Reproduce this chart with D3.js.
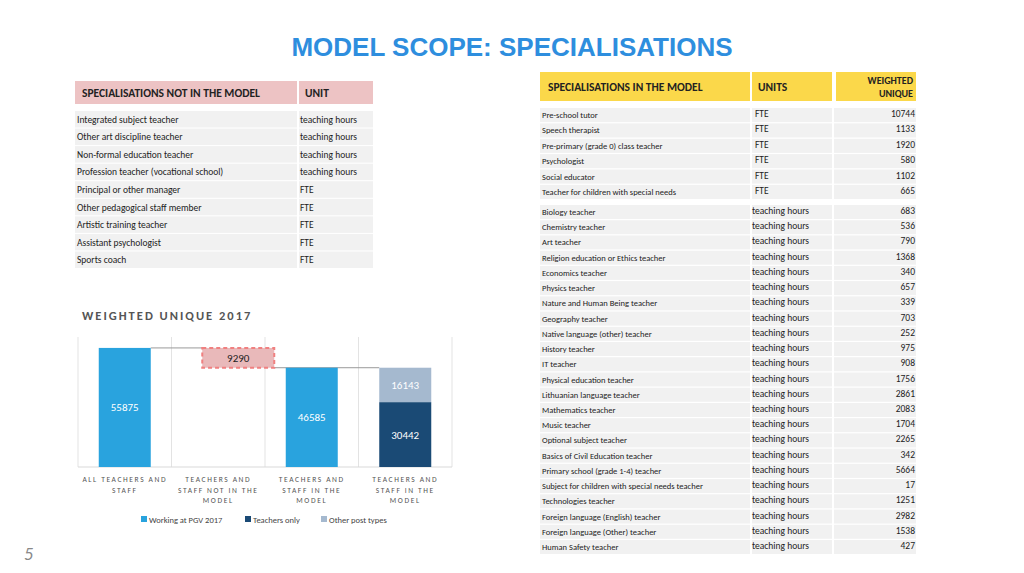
<!DOCTYPE html><html><head><meta charset="utf-8"><script src="https://cdn.jsdelivr.net/npm/d3@7"></script>
<style>body{margin:0;background:#fff}svg{display:block;font-family:Calibri,Carlito,"Open Sans",sans-serif}</style></head><body>
<svg id="s" width="1024" height="573"></svg>
<script>
const notInModel=["Integrated subject teacher","Other art discipline teacher","Non-formal education teacher","Profession teacher (vocational school)","Principal or other manager","Other pedagogical staff member","Artistic training teacher","Assistant psychologist","Sports coach"];
const notInUnits=["teaching hours","teaching hours","teaching hours","teaching hours","FTE","FTE","FTE","FTE","FTE"];
const fteNames=["Pre-school tutor","Speech therapist","Pre-primary (grade 0) class teacher","Psychologist","Social educator","Teacher for children with special needs"];
const fteValues=[10744,1133,1920,580,1102,665];
const thNames=["Biology teacher","Chemistry teacher","Art teacher","Religion education or Ethics teacher","Economics teacher","Physics teacher","Nature and Human Being teacher","Geography teacher","Native language (other) teacher","History teacher","IT teacher","Physical education teacher","Lithuanian language teacher","Mathematics teacher","Music teacher","Optional subject teacher","Basics of Civil Education teacher","Primary school (grade 1-4) teacher","Subject for children with special needs teacher","Technologies teacher","Foreign language (English) teacher","Foreign language (Other) teacher","Human Safety teacher"];
const thValues=[683,536,790,1368,340,657,339,703,252,975,908,1756,2861,2083,1704,2265,342,5664,17,1251,2982,1538,427];
const categories=[["ALL TEACHERS AND","STAFF"],["TEACHERS AND","STAFF NOT IN THE","MODEL"],["TEACHERS AND","STAFF IN THE","MODEL"],["TEACHERS AND","STAFF IN THE","MODEL"]];
const allStaff=55875, notIn=9290, inModel=46585, teachersOnly=30442, otherPosts=16143;
const legendLabels=["Working at PGV 2017","Teachers only","Other post types"];
const colors=["#29a3de","#1a4a75","#a5b9cf"];

const svg=d3.select("#s");
svg.append("text").attr("x",512).attr("y",56).attr("text-anchor","middle").attr("font-family","Liberation Sans,Arial").attr("font-weight","bold").attr("font-size",26).attr("fill","#2e8ede").text("MODEL SCOPE: SPECIALISATIONS");
svg.append("text").attr("x",24).attr("y",560).attr("font-style","italic").attr("font-size",18).attr("fill","#888").text("5");

// left table
const L=svg.append("g");
L.append("rect").attr("x",75).attr("y",81).attr("width",222).attr("height",23).attr("fill","#edc3c4");
L.append("rect").attr("x",299).attr("y",81).attr("width",74).attr("height",23).attr("fill","#edc3c4");
L.append("text").attr("x",82).attr("y",97).attr("font-size",11.5).attr("font-weight","bold").attr("fill","#222").text("SPECIALISATIONS NOT IN THE MODEL");
L.append("text").attr("x",305).attr("y",97).attr("font-size",11.5).attr("font-weight","bold").attr("fill","#222").text("UNIT");
const ly=d3.scaleBand().domain(d3.range(notInModel.length)).range([111,268]).paddingInner(0.06);
notInModel.forEach((n,i)=>{
  L.append("rect").attr("x",75).attr("y",ly(i)).attr("width",222).attr("height",ly.bandwidth()).attr("fill","#f1f1f1");
  L.append("rect").attr("x",299).attr("y",ly(i)).attr("width",74).attr("height",ly.bandwidth()).attr("fill","#f1f1f1");
  L.append("text").attr("x",77).attr("y",ly(i)+ly.bandwidth()/2+3.5).attr("font-size",9.5).attr("fill","#222").text(n);
  L.append("text").attr("x",300).attr("y",ly(i)+ly.bandwidth()/2+3.5).attr("font-size",9.5).attr("fill","#222").text(notInUnits[i]);
});

// right table
const R=svg.append("g");
[[540,210],[752,80],[836,80]].forEach(([x,w])=>R.append("rect").attr("x",x).attr("y",72).attr("width",w).attr("height",29).attr("fill","#fbd84a"));
R.append("text").attr("x",548).attr("y",91).attr("font-size",11.5).attr("font-weight","bold").attr("fill","#222").text("SPECIALISATIONS IN THE MODEL");
R.append("text").attr("x",758).attr("y",91).attr("font-size",11.5).attr("font-weight","bold").attr("fill","#222").text("UNITS");
R.append("text").attr("x",913).attr("y",84).attr("text-anchor","end").attr("font-size",10).attr("font-weight","bold").attr("fill","#222").text("WEIGHTED");
R.append("text").attr("x",913).attr("y",97).attr("text-anchor","end").attr("font-size",10).attr("font-weight","bold").attr("fill","#222").text("UNIQUE");
function group(names,vals,unit,y0,y1){
  const y=d3.scaleBand().domain(d3.range(names.length)).range([y0,y1]).paddingInner(0.08);
  names.forEach((n,i)=>{
    [[540,210],[752,80],[834,82]].forEach(([x,w])=>R.append("rect").attr("x",x).attr("y",y(i)).attr("width",w).attr("height",y.bandwidth()).attr("fill","#f1f1f1"));
    const ty=y(i)+y.bandwidth()/2+3;
    R.append("text").attr("x",542).attr("y",ty).attr("font-size",8.5).attr("fill","#222").text(n);
    R.append("text").attr("x",unit==="FTE"?755:752).attr("y",ty-1).attr("font-size",9.5).attr("fill","#222").text(unit);
    R.append("text").attr("x",915).attr("y",ty-1).attr("text-anchor","end").attr("font-size",9.5).attr("fill","#222").text(vals[i]);
  });
}
group(fteNames,fteValues,"FTE",108,199);
group(thNames,thValues,"teaching hours",205,554);

// chart
const C=svg.append("g");
C.append("text").attr("x",82).attr("y",320).attr("font-size",12.5).attr("font-weight","bold").attr("letter-spacing",2).attr("fill","#555").text("WEIGHTED UNIQUE 2017");
const x=d3.scaleBand().domain(d3.range(4)).range([78,452]);
const y=d3.scaleLinear().domain([0,61000]).range([467,337]);
for(let i=0;i<=4;i++){const xx=i<4?x(i):452;C.append("line").attr("x1",xx).attr("x2",xx).attr("y1",337).attr("y2",467).attr("stroke","#e3e3e3");}
C.append("line").attr("x1",78).attr("x2",452).attr("y1",467).attr("y2",467).attr("stroke","#d9d9d9");
const bw=52, bx=i=>x(i)+(x.bandwidth()-bw)/2;
C.append("line").attr("x1",bx(0)+bw).attr("x2",bx(1)+10).attr("y1",y(allStaff)).attr("y2",y(allStaff)).attr("stroke","#999");
C.append("line").attr("x1",bx(1)+bw+30).attr("x2",bx(3)).attr("y1",y(inModel)).attr("y2",y(inModel)).attr("stroke","#999");
C.append("rect").attr("x",bx(0)).attr("y",y(allStaff)).attr("width",bw).attr("height",y(0)-y(allStaff)).attr("fill",colors[0]);
C.append("rect").attr("x",bx(1)+10).attr("y",y(allStaff)).attr("width",bw+20).attr("height",y(inModel)-y(allStaff)).attr("fill","#e9b9ba").attr("stroke","#f08080").attr("stroke-width",2).attr("stroke-dasharray","4,3");
C.append("rect").attr("x",bx(2)).attr("y",y(inModel)).attr("width",bw).attr("height",y(0)-y(inModel)).attr("fill",colors[0]);
C.append("rect").attr("x",bx(3)).attr("y",y(teachersOnly)).attr("width",bw).attr("height",y(0)-y(teachersOnly)).attr("fill",colors[1]);
C.append("rect").attr("x",bx(3)).attr("y",y(teachersOnly+otherPosts)).attr("width",bw).attr("height",y(teachersOnly)-y(teachersOnly+otherPosts)).attr("fill",colors[2]);
const lab=(t,cx,cy,c)=>C.append("text").attr("x",cx).attr("y",cy+4).attr("text-anchor","middle").attr("font-size",11).attr("fill",c).text(t);
lab(allStaff,bx(0)+bw/2,y(allStaff/2),"#fff");
lab(notIn,bx(1)+bw/2+20,(y(allStaff)+y(inModel))/2,"#222");
lab(inModel,bx(2)+bw/2,y(inModel/2),"#fff");
lab(teachersOnly,bx(3)+bw/2,y(teachersOnly/2),"#fff");
lab(otherPosts,bx(3)+bw/2,y(teachersOnly+otherPosts/2),"#fff");
categories.forEach((ls,i)=>ls.forEach((l,j)=>C.append("text").attr("x",x(i)+x.bandwidth()/2).attr("y",482+j*10.5).attr("text-anchor","middle").attr("font-size",7.5).attr("letter-spacing",1.6).attr("fill","#555").text(l)));
const lx=[141,245,321];
legendLabels.forEach((l,i)=>{C.append("rect").attr("x",lx[i]).attr("y",516).attr("width",6).attr("height",6).attr("fill",colors[i]);C.append("text").attr("x",lx[i]+8).attr("y",523).attr("font-size",8.5).attr("fill","#444").text(l);});
</script></body></html>
